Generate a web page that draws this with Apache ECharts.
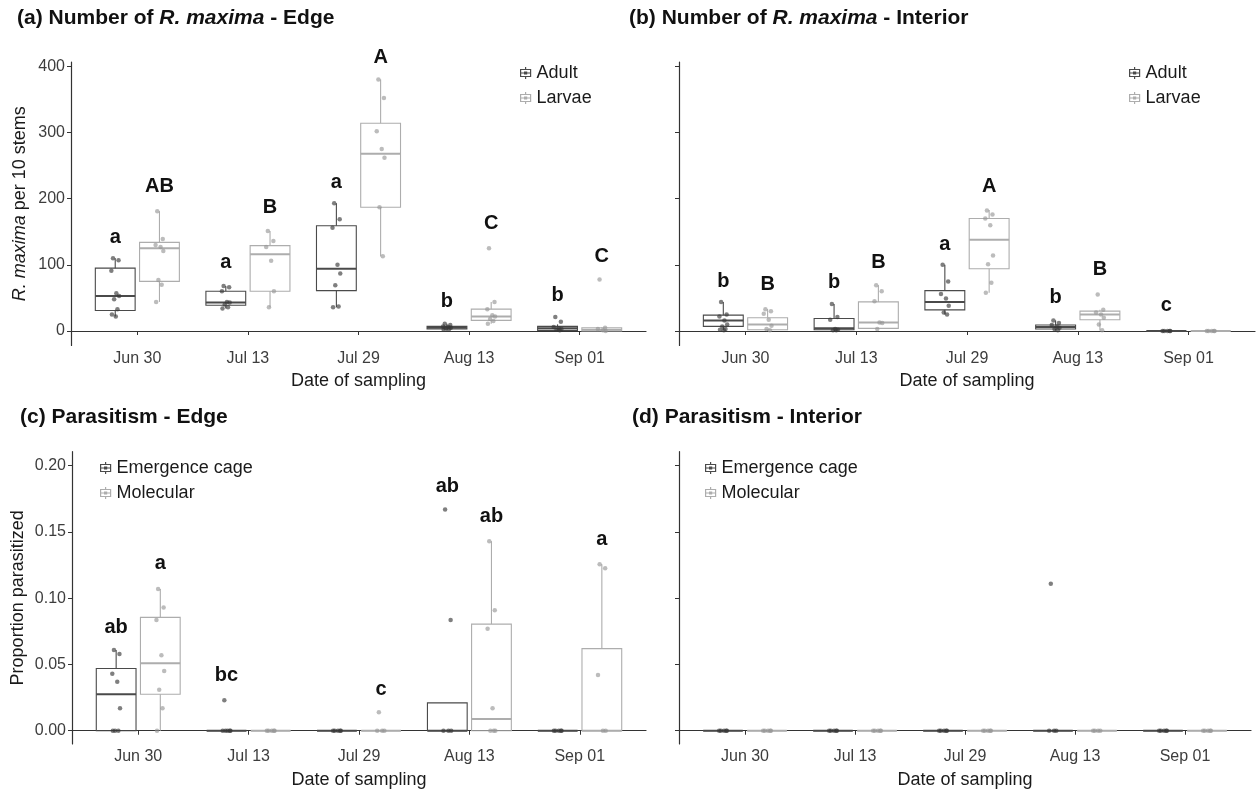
<!DOCTYPE html>
<html>
<head>
<meta charset="utf-8">
<script src="https://cdn.jsdelivr.net/npm/echarts@6/dist/echarts.min.js"></script>
<style>
html,body{margin:0;padding:0;background:#fff;}
#main{width:1259px;height:793px;}
</style>
</head>
<body>
<div id="main"></div>
<script>
// ---------------- DATA ----------------
const categories = ['Jun 30', 'Jul 13', 'Jul 29', 'Aug 13', 'Sep 01'];
const countTicks = [0, 100, 200, 300, 400];
const countTickLabels = ['0', '100', '200', '300', '400'];
const propTicks = [0, 0.05, 0.10, 0.15, 0.20];
const propTickLabels = ['0.00', '0.05', '0.10', '0.15', '0.20'];

// boxes: [lowWhisker, Q1, median, Q3, highWhisker] per date
const edgeAdultBox = [[22, 31, 53, 95, 110], [34, 39, 43, 60, 68], [36, 61, 94, 159, 193], [0, 3, 5, 7, 11], [0, 1, 4, 7, 10]];
const edgeLarvaeBox = [[44, 75, 125, 134, 181], [36, 60, 116, 129, 151], [113, 187, 268, 314, 380], [11, 16, 22, 33, 44], [0, 0, 2, 5, 6]];
const intAdultBox = [[1, 7, 16, 24, 44], [1, 2, 4, 19, 41], [25, 32, 44, 61, 100], [1, 3, 6, 9, 16], [0, 0, 0, 0, 0]];
const intLarvaeBox = [[0, 2, 10, 20, 33], [3, 4, 13, 44, 69], [58, 94, 138, 170, 183], [1, 17, 25, 30, 32], [0, 0, 0, 0, 0]];
const edgeCageBox = [[0, 0, 0.0275, 0.047, 0.061], [0, 0, 0, 0, 0], [0, 0, 0, 0, 0], [0, 0, 0, 0.021, 0.021], [0, 0, 0, 0, 0]];
const edgeMolBox = [[0, 0.0275, 0.051, 0.0856, 0.107], [0, 0, 0, 0, 0], [0, 0, 0, 0, 0], [0, 0, 0.0088, 0.0805, 0.143], [0, 0, 0, 0.062, 0.1256]];
const intCageBox = [[0, 0, 0, 0, 0], [0, 0, 0, 0, 0], [0, 0, 0, 0, 0], [0, 0, 0, 0, 0], [0, 0, 0, 0, 0]];
const intMolBox = [[0, 0, 0, 0, 0], [0, 0, 0, 0, 0], [0, 0, 0, 0, 0], [0, 0, 0, 0, 0], [0, 0, 0, 0, 0]];

// individual observations per date
const edgeAdultPts = [[110, 107, 91, 57, 53, 48, 33, 25, 22], [68, 66, 60, 44, 43, 40, 36, 34], [193, 169, 156, 100, 87, 69, 37, 36], [11, 9, 7, 6, 5, 4, 3, 2], [21, 14, 6, 4, 3, 2, 1]];
const edgeLarvaePts = [[181, 139, 130, 127, 121, 77, 70, 44], [151, 136, 127, 106, 60, 36], [380, 352, 302, 275, 262, 187, 113], [125, 44, 33, 24, 22, 18, 15, 11], [78, 5, 3, 1, 0]];
const intAdultPts = [[44, 25, 22, 16, 10, 7, 3, 2, 1], [41, 21, 17, 3, 2, 1, 1], [100, 75, 56, 49, 38, 28, 25], [16, 12, 9, 7, 5, 3, 1], [0, 0, 0, 0, 0]];
const intLarvaePts = [[33, 30, 26, 17, 8, 3, 1], [69, 60, 45, 13, 12, 3], [182, 176, 170, 160, 114, 101, 73, 58], [55, 32, 28, 25, 20, 10, 1], [0, 0, 0, 0, 0]];
const edgeCagePts = [[0.061, 0.058, 0.043, 0.037, 0.017, 0, 0, 0], [0.023, 0, 0, 0, 0, 0], [0, 0, 0, 0, 0], [0.167, 0.0835, 0, 0, 0], [0, 0, 0, 0, 0]];
const edgeMolPts = [[0.107, 0.093, 0.0835, 0.057, 0.045, 0.031, 0.017, 0], [0, 0, 0, 0, 0], [0.014, 0, 0, 0], [0.143, 0.091, 0.077, 0.017, 0, 0, 0], [0.1256, 0.1226, 0.042, 0, 0]];
const intCagePts = [[0, 0, 0, 0, 0], [0, 0, 0, 0, 0], [0, 0, 0, 0, 0], [0.111, 0, 0, 0], [0, 0, 0, 0, 0]];
const intMolPts = [[0, 0, 0, 0, 0], [0, 0, 0, 0, 0], [0, 0, 0, 0, 0], [0, 0, 0, 0], [0, 0, 0, 0, 0]];

// significance letters: [group (0 first,1 second), date index, letter, y value]
const edgeCountLetters = [[0, 0, 'a', 142], [1, 0, 'AB', 219], [0, 1, 'a', 103], [1, 1, 'B', 186], [0, 2, 'a', 224], [1, 2, 'A', 414], [0, 3, 'b', 44], [1, 3, 'C', 163], [0, 4, 'b', 53], [1, 4, 'C', 112]];
const intCountLetters = [[0, 0, 'b', 75], [1, 0, 'B', 70], [0, 1, 'b', 74], [1, 1, 'B', 103], [0, 2, 'a', 131], [1, 2, 'A', 219], [0, 3, 'b', 51], [1, 3, 'B', 93], [0, 4, 'c', 39]];
const edgeParLetters = [[0, 0, 'ab', 0.078], [1, 0, 'a', 0.126], [0, 1, 'bc', 0.042], [1, 2, 'c', 0.031], [0, 3, 'ab', 0.184], [1, 3, 'ab', 0.1615], [1, 4, 'a', 0.1445]];

// ---------------- STYLE / LAYOUT ----------------
const FONT = '"Liberation Sans", Arial, Helvetica, sans-serif';
const DARK = '#4a4a4a';
const LIGHT = '#adadad';
const DODGE = 0.2;
const HALF_BOX = 0.18;
const JITTER = [-0.02, 0.03, -0.035, 0.01, 0.035, -0.01, 0.02, -0.03, 0.005];

const grids = [
  {left: 71, top: 62, width: 575, height: 283.5},
  {left: 679, top: 62, width: 576, height: 283.5},
  {left: 72, top: 451.7, width: 574, height: 292.3},
  {left: 679, top: 451.7, width: 572, height: 292.3}
];

function xAxisFor(i) {
  return {
    type: 'value', gridIndex: i, min: 0.4, max: 5.6,
    name: 'Date of sampling', nameLocation: 'middle', nameGap: 27,
    nameTextStyle: {fontSize: 18, color: '#1a1a1a', fontFamily: FONT, verticalAlign: 'top'},
    axisLine: {show: true, lineStyle: {color: '#333', width: 1.2}},
    axisTick: {show: true, length: 4, lineStyle: {color: '#333'}, customValues: [1, 2, 3, 4, 5]},
    axisLabel: {show: true, fontSize: 16, color: '#3d3d3d', fontFamily: FONT, margin: 5,
      customValues: [1, 2, 3, 4, 5], formatter: v => categories[Math.round(v) - 1]},
    splitLine: {show: false}
  };
}
function yAxisFor(i, min, max, ticks, labels, name, showLabels, gap) {
  return {
    type: 'value', gridIndex: i, min: min, max: max,
    name: name, nameLocation: 'middle', nameGap: gap, nameRotate: 90,
    nameTextStyle: {fontSize: 18, color: '#1a1a1a', fontFamily: FONT,
      rich: {i: {fontSize: 18, fontStyle: 'italic', color: '#1a1a1a', fontFamily: FONT}}},
    axisLine: {show: true, lineStyle: {color: '#333', width: 1.2}},
    axisTick: {show: true, length: 4, lineStyle: {color: '#333'}, customValues: ticks},
    axisLabel: {show: showLabels, fontSize: 16, color: '#3d3d3d', fontFamily: FONT, margin: 6,
      customValues: ticks, formatter: v => labels[ticks.findIndex(t => Math.abs(t - v) < 1e-9)]},
    splitLine: {show: false}
  };
}

function renderBox(params, api) {
  const x = api.value(0), low = api.value(1), q1 = api.value(2), med = api.value(3), q3 = api.value(4), high = api.value(5);
  const color = api.visual('color');
  const tl = api.coord([x - HALF_BOX, q3]);
  const br = api.coord([x + HALF_BOX, q1]);
  const ml = api.coord([x - HALF_BOX, med]);
  const mr = api.coord([x + HALF_BOX, med]);
  const ph = api.coord([x, high]), p3 = api.coord([x, q3]), p1 = api.coord([x, q1]), pl = api.coord([x, low]);
  const st = {stroke: color, fill: 'rgba(255,255,255,0)', lineWidth: 1.1};
  return {type: 'group', children: [
    {type: 'line', shape: {x1: ph[0], y1: ph[1], x2: p3[0], y2: p3[1]}, style: st},
    {type: 'line', shape: {x1: p1[0], y1: p1[1], x2: pl[0], y2: pl[1]}, style: st},
    {type: 'rect', shape: {x: tl[0], y: tl[1], width: br[0] - tl[0], height: br[1] - tl[1]}, style: st},
    {type: 'line', shape: {x1: ml[0], y1: ml[1], x2: mr[0], y2: mr[1]}, style: Object.assign({}, st, {lineWidth: 2})}
  ]};
}
function renderLetter(letters) {
  return function (params, api) {
    const p = api.coord([api.value(0), api.value(1)]);
    return {type: 'text', x: p[0], y: p[1], style: {
      text: letters[params.dataIndex], fontSize: 20, fontWeight: 'bold', fontFamily: FONT,
      fill: '#111', align: 'center', verticalAlign: 'middle'}};
  };
}

const series = [];
function addGroup(gridIdx, name, color, ptColor, boxes, pts, groupIdx) {
  const off = groupIdx === 0 ? -DODGE : DODGE;
  series.push({
    type: 'custom', name: name, xAxisIndex: gridIdx, yAxisIndex: gridIdx,
    itemStyle: {color: color},
    encode: {x: 0, y: [1, 2, 3, 4, 5]},
    data: boxes.map((b, i) => [i + 1 + off].concat(b)),
    renderItem: renderBox, z: 2, silent: true
  });
  const pdata = [];
  pts.forEach((arr, i) => arr.forEach((v, k) => pdata.push([i + 1 + off + JITTER[k % JITTER.length], v])));
  series.push({
    type: 'scatter', name: name, xAxisIndex: gridIdx, yAxisIndex: gridIdx,
    symbolSize: 4.5, itemStyle: {color: ptColor}, data: pdata, z: 3, clip: false, silent: true
  });
}
function addLetters(gridIdx, letters) {
  series.push({
    type: 'custom', xAxisIndex: gridIdx, yAxisIndex: gridIdx, clip: false, silent: true, z: 5,
    data: letters.map(l => [l[1] + 1 + (l[0] === 0 ? -DODGE : DODGE), l[3]]),
    renderItem: renderLetter(letters.map(l => l[2]))
  });
}

addGroup(0, 'Adult', DARK, 'rgba(55,55,55,0.8)', edgeAdultBox, edgeAdultPts, 0);
addGroup(0, 'Larvae', LIGHT, 'rgba(150,150,150,0.8)', edgeLarvaeBox, edgeLarvaePts, 1);
addGroup(1, 'Adult', DARK, 'rgba(55,55,55,0.8)', intAdultBox, intAdultPts, 0);
addGroup(1, 'Larvae', LIGHT, 'rgba(150,150,150,0.8)', intLarvaeBox, intLarvaePts, 1);
addGroup(2, 'Emergence cage', DARK, 'rgba(55,55,55,0.8)', edgeCageBox, edgeCagePts, 0);
addGroup(2, 'Molecular', LIGHT, 'rgba(150,150,150,0.8)', edgeMolBox, edgeMolPts, 1);
addGroup(3, 'Emergence cage', DARK, 'rgba(55,55,55,0.8)', intCageBox, intCagePts, 0);
addGroup(3, 'Molecular', LIGHT, 'rgba(150,150,150,0.8)', intMolBox, intMolPts, 1);
addLetters(0, edgeCountLetters);
addLetters(1, intCountLetters);
addLetters(2, edgeParLetters);

const BOX_ICON = 'path://M1,2.5 L11,2.5 L11,9.5 L1,9.5 Z M1,6 L11,6 M6,0 L6,2.5 M6,9.5 L6,12 M5,5 L7,5 L7,7 L5,7 Z';
function legendFor(left, top, names, colors) {
  return {
    left: left, top: top, orient: 'vertical', selectedMode: false, padding: 0,
    itemWidth: 12, itemHeight: 12, itemGap: 7,
    textStyle: {fontSize: 18, color: '#1a1a1a', fontFamily: FONT},
    data: names.map((n, k) => ({
      name: n, icon: BOX_ICON,
      itemStyle: {color: 'rgba(255,255,255,0)', borderColor: colors[k], borderWidth: 1.2}
    }))
  };
}

const titleRich = {
  n: {fontSize: 21, fontWeight: 'bold', color: '#111', fontFamily: FONT},
  i: {fontSize: 21, fontWeight: 'bold', fontStyle: 'italic', color: '#111', fontFamily: FONT}
};
function titleFor(text, left, top) {
  return {text: text, left: left, top: top, padding: 0, textStyle: {rich: titleRich}};
}

const option = {
  backgroundColor: '#fff',
  animation: false,
  title: [
    titleFor('{n|(a) Number of }{i|R. maxima}{n| - Edge}', 17, 8),
    titleFor('{n|(b) Number of }{i|R. maxima}{n| - Interior}', 629, 8),
    titleFor('{n|(c) Parasitism - Edge}', 20, 407),
    titleFor('{n|(d) Parasitism - Interior}', 632, 407)
  ],
  legend: [
    legendFor(520, 64, ['Adult', 'Larvae'], [DARK, LIGHT]),
    legendFor(1129, 64, ['Adult', 'Larvae'], [DARK, LIGHT]),
    legendFor(100, 459, ['Emergence cage', 'Molecular'], [DARK, LIGHT]),
    legendFor(705, 459, ['Emergence cage', 'Molecular'], [DARK, LIGHT])
  ],
  grid: grids,
  xAxis: [xAxisFor(0), xAxisFor(1), xAxisFor(2), xAxisFor(3)],
  yAxis: [
    yAxisFor(0, -21.9, 406.5, countTicks, countTickLabels, '{i|R. maxima} per 10 stems', true, 42),
    yAxisFor(1, -21.9, 406.5, countTicks, countTickLabels, '', false, 42),
    yAxisFor(2, -0.01, 0.2106, propTicks, propTickLabels, 'Proportion parasitized', true, 45),
    yAxisFor(3, -0.01, 0.2106, propTicks, propTickLabels, '', false, 45)
  ],
  series: series
};

const chart = echarts.init(document.getElementById('main'), null, {renderer: 'canvas'});
chart.setOption(option);
</script>
</body>
</html>
